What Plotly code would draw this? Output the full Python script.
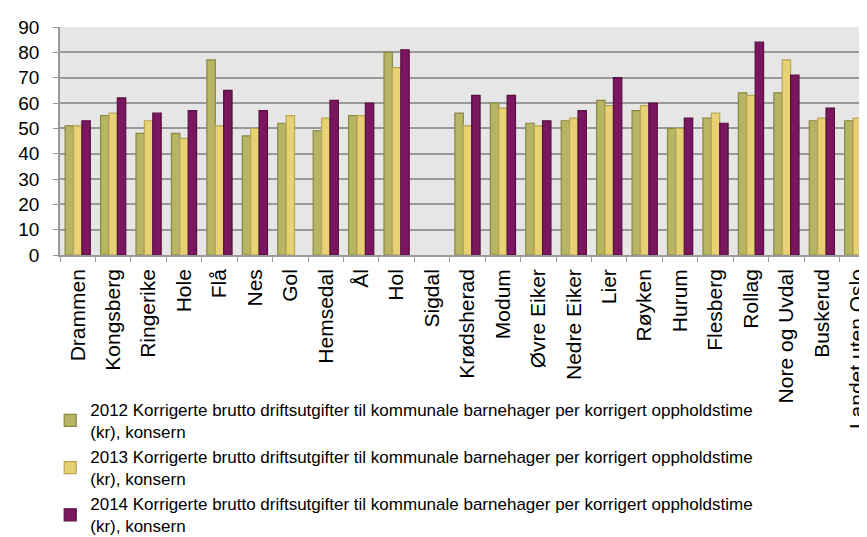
import plotly.graph_objects as go

categories = ["Drammen", "Kongsberg", "Ringerike", "Hole", "Flå", "Nes", "Gol", "Hemsedal", "Ål", "Hol",
              "Sigdal", "Krødsherad", "Modum", "Øvre Eiker", "Nedre Eiker", "Lier", "Røyken", "Hurum",
              "Flesberg", "Rollag", "Nore og Uvdal", "Buskerud", "Landet uten Oslo"]
v2012 = [51, 55, 48, 48, 77, 47, 52, 49, 55, 80, None, 56, 60, 52, 53, 61, 57, 50, 54, 64, 64, 53, 53]
v2013 = [51, 56, 53, 46, 51, 50, 55, 54, 55, 74, None, 51, 58, 51, 54, 59, 59, 50, 56, 63, 77, 54, 54]
v2014 = [53, 62, 56, 57, 65, 57, None, 61, 60, 81, None, 63, 63, 53, 57, 70, 60, 54, 52, 84, 71, 58, 58]
y_ticks = [0, 10, 20, 30, 40, 50, 60, 70, 80, 90]

desc = " Korrigerte brutto driftsutgifter til kommunale barnehager per korrigert oppholdstime<br>(kr), konsern"
series = [("2012", v2012, "#b7b463", "#8a8740"),
          ("2013", v2013, "#e7d173", "#b9a658"),
          ("2014", v2014, "#7b1660", "#55103f")]

fig = go.Figure()
for i, (yr, vals, col, lc) in enumerate(series):
    fig.add_trace(go.Bar(x=categories, y=vals, name=yr + desc, marker=dict(color=col, line=dict(color=lc, width=1.2)),
                         legendgroup=yr))

fig.update_layout(
    width=867, height=537,
    margin=dict(l=52, r=0, t=19, b=290, autoexpand=False),
    paper_bgcolor="white", plot_bgcolor="#e6e6e6",
    barmode="group", bargap=0.29, bargroupgap=0,
    font=dict(family="Liberation Sans, Arial", color="black"),
    showlegend=True,
    legend=dict(x=-0.012, y=-0.6, xanchor="left", yanchor="top", font=dict(size=17),
                traceorder="grouped", tracegroupgap=0, itemwidth=30, bgcolor="rgba(0,0,0,0)"),
    xaxis=dict(tickangle=-90, tickfont=dict(size=21), ticks="outside", ticklen=5, tickcolor="#999",
               showline=True, linecolor="#999", linewidth=1.5, tickson="boundaries", fixedrange=True,
               automargin=False, ticklabelstandoff=4),
    yaxis=dict(range=[0, 90], tickvals=y_ticks, tickfont=dict(size=19), showgrid=True, gridcolor="#999",
               gridwidth=1.5, showline=True, linecolor="#999", linewidth=1.5, ticks="outside", ticklen=5,
               tickcolor="#999", zeroline=False, automargin=False, ticklabelstandoff=10),
)
fig.write_html("out.html")
